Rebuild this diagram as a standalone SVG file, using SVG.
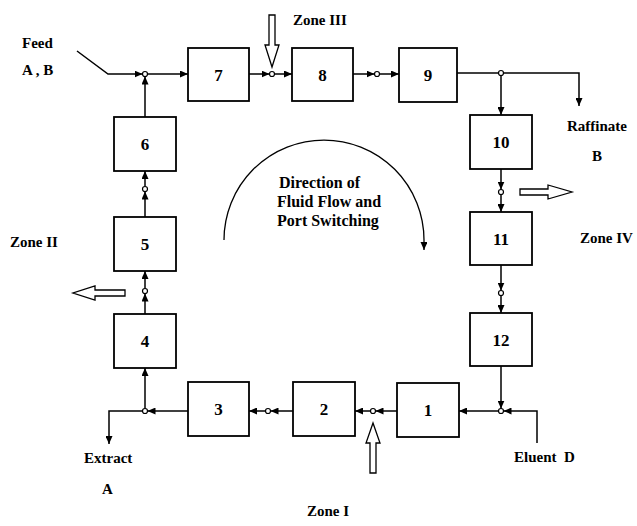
<svg xmlns="http://www.w3.org/2000/svg" width="637" height="526" viewBox="0 0 637 526">
<style>
  .box rect { fill: #fff; stroke: #000; stroke-width: 1.8; }
  .box text { font-family: "Liberation Serif", serif; font-weight: bold; font-size: 17px; text-anchor: middle; }
  .lbl { font-family: "Liberation Serif", serif; font-weight: bold; font-size: 15px; fill: #000; }
  .mid { font-family: "Liberation Serif", serif; font-weight: bold; font-size: 16px; fill: #000; }
  .ln { fill: none; stroke: #000; stroke-width: 1.5; marker-end: url(#ah); }
  .ln0 { fill: none; stroke: #000; stroke-width: 1.5; }
  .port { fill: #fff; stroke: #000; stroke-width: 1.2; }
  .hollow { fill: #fff; stroke: #000; stroke-width: 1.3; stroke-linejoin: miter; }
</style>
<defs>
  <marker id="ah" markerUnits="userSpaceOnUse" markerWidth="9" markerHeight="7" refX="8" refY="3.5" orient="auto">
    <path d="M0,0 L8,3.5 L0,7 z" fill="#000"/>
  </marker>
</defs>
<rect width="637" height="526" fill="#fff"/>

<g id="connectors">
  <path class="ln" d="M77,51 L108,74 L142.5,74"/>
  <path class="ln" d="M147.5,74 L188,74"/>
  <path class="ln" d="M145,117 L145,76.5"/>
  <path class="ln" d="M249,74 L269.5,74"/>
  <path class="ln" d="M274.5,74 L292,74"/>
  <path class="ln" d="M353,74 L374.5,74"/>
  <path class="ln" d="M379.5,74 L399,74"/>
  <path class="ln0" d="M457,73 L498.5,73"/>
  <path class="ln" d="M503.5,73 L579,73 L579,106"/>
  <path class="ln" d="M501,75.5 L501,115"/>
  <path class="ln" d="M501,169 L501,189.5"/>
  <path class="ln" d="M501,194.5 L501,212"/>
  <path class="ln" d="M501,265 L501,290.5"/>
  <path class="ln" d="M501,295.5 L501,313"/>
  <path class="ln" d="M501,366 L501,408.5"/>
  <path class="ln" d="M537,443 L537,411 L503.5,411"/>
  <path class="ln" d="M498.5,411 L459,411"/>
  <path class="ln" d="M397,411 L375.5,411"/>
  <path class="ln" d="M370.5,411 L355,411"/>
  <path class="ln" d="M293,411 L270.5,411"/>
  <path class="ln" d="M265.5,411 L249,411"/>
  <path class="ln" d="M188,411 L147.5,411"/>
  <path class="ln" d="M142.5,411 L109,411 L109,444"/>
  <path class="ln" d="M145,408.5 L145,368"/>
  <path class="ln" d="M145,314 L145,293.5"/>
  <path class="ln" d="M145,288.5 L145,271"/>
  <path class="ln" d="M145,217 L145,191.5"/>
  <path class="ln" d="M145,186.5 L145,171"/>
  <path d="M224,240 A100,100 0 0 1 424,240 L424,250" fill="none" stroke="#000" stroke-width="1.3" marker-end="url(#ah)"/>
</g>

<g id="ports">
  <circle class="port" cx="145" cy="74" r="2.5"/>
  <circle class="port" cx="272" cy="74" r="2.5"/>
  <circle class="port" cx="377" cy="74" r="2.5"/>
  <circle class="port" cx="501" cy="73" r="2.5"/>
  <circle class="port" cx="501" cy="192" r="2.5"/>
  <circle class="port" cx="501" cy="293" r="2.5"/>
  <circle class="port" cx="501" cy="411" r="2.5"/>
  <circle class="port" cx="373" cy="411" r="2.5"/>
  <circle class="port" cx="268" cy="411" r="2.5"/>
  <circle class="port" cx="145" cy="411" r="2.5"/>
  <circle class="port" cx="145" cy="291" r="2.5"/>
  <circle class="port" cx="145" cy="189" r="2.5"/>
</g>

<g id="col7" class="box"><rect x="188" y="48" width="61" height="53"/><text x="218.5" y="80.5">7</text></g>
<g id="col8" class="box"><rect x="292" y="48" width="61" height="53"/><text x="322.5" y="80.5">8</text></g>
<g id="col9" class="box"><rect x="399" y="48" width="58" height="54"/><text x="428" y="80.5">9</text></g>
<g id="col10" class="box"><rect x="470" y="115" width="62" height="54"/><text x="501" y="148">10</text></g>
<g id="col11" class="box"><rect x="470" y="212" width="62" height="53"/><text x="501" y="244.5">11</text></g>
<g id="col12" class="box"><rect x="470" y="313" width="62" height="53"/><text x="501" y="345.5">12</text></g>
<g id="col1" class="box"><rect x="397" y="383" width="62" height="54"/><text x="428" y="416">1</text></g>
<g id="col2" class="box"><rect x="293" y="382" width="62" height="54"/><text x="324" y="415">2</text></g>
<g id="col3" class="box"><rect x="188" y="382" width="61" height="54"/><text x="218.5" y="415">3</text></g>
<g id="col4" class="box"><rect x="114" y="314" width="62" height="54"/><text x="145" y="347">4</text></g>
<g id="col5" class="box"><rect x="114" y="217" width="62" height="54"/><text x="145" y="250">5</text></g>
<g id="col6" class="box"><rect x="114" y="117" width="62" height="54"/><text x="145" y="150">6</text></g>

<g id="zone-arrows">
  <polygon class="hollow" points="269,15 275,15 275,45 279,45 272,67 265,45 269,45"/>
  <polygon class="hollow" points="370,473 376,473 376,443 380,443 373,423 366,443 370,443"/>
  <polygon class="hollow" points="125,290 125,296 95,296 95,300 73,293 95,286 95,290"/>
  <polygon class="hollow" points="520,189 520,195 548,195 548,199 572,192 548,185 548,189"/>
</g>

<g id="labels">
  <text class="lbl" x="22" y="48">Feed</text>
  <text class="lbl" x="22" y="75">A , B</text>
  <text class="lbl" x="293" y="25">Zone III</text>
  <text class="lbl" x="567" y="131">Raffinate</text>
  <text class="lbl" x="592" y="161">B</text>
  <text class="lbl" x="580" y="243">Zone IV</text>
  <text class="lbl" x="10" y="247">Zone II</text>
  <text class="mid" x="279" y="188">Direction of</text>
  <text class="mid" x="277" y="207">Fluid Flow and</text>
  <text class="mid" x="277" y="226">Port Switching</text>
  <text class="lbl" x="84" y="463">Extract</text>
  <text class="lbl" x="102" y="494">A</text>
  <text class="lbl" x="514" y="462" xml:space="preserve">Eluent  D</text>
  <text class="lbl" x="307" y="516">Zone I</text>
</g>
</svg>
